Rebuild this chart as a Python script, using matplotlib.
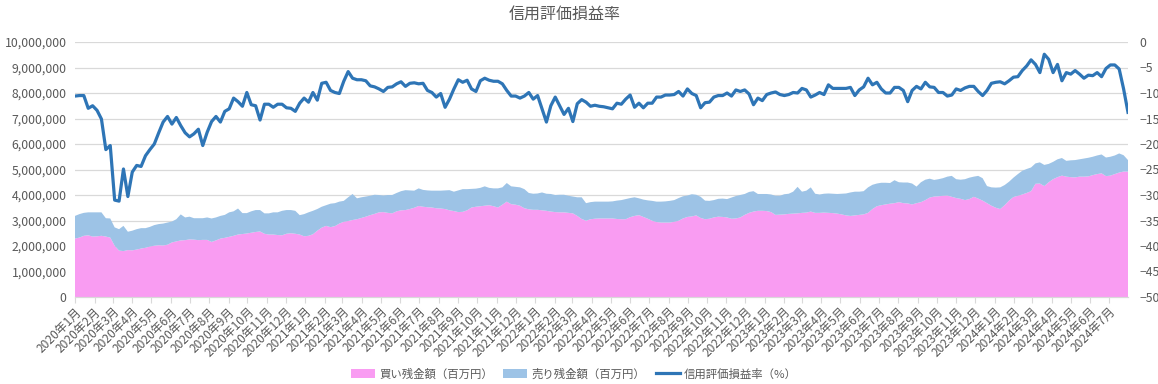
import numpy as np
import pandas as pd
import matplotlib
matplotlib.use("Agg")
import matplotlib.pyplot as plt
from matplotlib.ticker import FuncFormatter, MultipleLocator

plt.rcParams['font.family'] = ['Noto Sans CJK JP', 'DejaVu Sans']

# ========= DATA (weekly, 2020-01-03 .. 2024-08-02) ============
START_DATE = "2020-01-03"

# 買い残金額 (百万円), in millions of 百万円
buy_m = [
    2.29, 2.33, 2.40, 2.42, 2.37, 2.38, 2.40, 2.37, 2.33, 2.01,
    1.82, 1.80, 1.84, 1.83, 1.86, 1.90, 1.93, 1.98, 2.01, 2.03,
    2.02, 2.05, 2.14, 2.18, 2.22, 2.23, 2.26, 2.25, 2.23, 2.24,
    2.24, 2.16, 2.22, 2.29, 2.32, 2.36, 2.40, 2.45, 2.47, 2.49,
    2.52, 2.55, 2.57, 2.48, 2.45, 2.45, 2.43, 2.42, 2.48, 2.50,
    2.48, 2.45, 2.38, 2.40, 2.46, 2.60, 2.72, 2.79, 2.74, 2.78,
    2.88, 2.95, 2.98, 3.02, 3.05, 3.10, 3.15, 3.21, 3.26, 3.32,
    3.33, 3.30, 3.28, 3.36, 3.40, 3.41, 3.45, 3.50, 3.57, 3.54,
    3.52, 3.51, 3.48, 3.47, 3.45, 3.40, 3.37, 3.33, 3.34, 3.40,
    3.51, 3.54, 3.56, 3.58, 3.60, 3.56, 3.51, 3.62, 3.74, 3.64,
    3.62, 3.58, 3.48, 3.44, 3.42, 3.42, 3.40, 3.38, 3.35, 3.33,
    3.32, 3.32, 3.30, 3.28, 3.18, 3.06, 2.99, 3.05, 3.07, 3.08,
    3.08, 3.08, 3.08, 3.06, 3.05, 3.05, 3.13, 3.18, 3.21, 3.14,
    3.07, 2.99, 2.94, 2.92, 2.92, 2.92, 2.95, 2.99, 3.08, 3.14,
    3.16, 3.20, 3.10, 3.05, 3.07, 3.12, 3.15, 3.14, 3.12, 3.07,
    3.08, 3.12, 3.22, 3.30, 3.35, 3.38, 3.38, 3.37, 3.33, 3.22,
    3.23, 3.24, 3.26, 3.27, 3.28, 3.30, 3.31, 3.35, 3.30, 3.30,
    3.31, 3.30, 3.29, 3.27, 3.24, 3.20, 3.18, 3.20, 3.22, 3.24,
    3.30, 3.45, 3.56, 3.60, 3.63, 3.66, 3.68, 3.72, 3.68, 3.67,
    3.63, 3.68, 3.72, 3.80, 3.90, 3.94, 3.95, 3.97, 3.98, 3.93,
    3.88, 3.85, 3.80, 3.84, 3.93, 3.86, 3.78, 3.68, 3.58, 3.50,
    3.45, 3.60, 3.78, 3.92, 3.97, 4.02, 4.08, 4.15, 4.44, 4.45,
    4.35, 4.50, 4.62, 4.70, 4.76, 4.72, 4.70, 4.69, 4.72, 4.72,
    4.73, 4.78, 4.82, 4.85, 4.74, 4.76, 4.82, 4.88, 4.92, 4.92,
]

# 売り残金額 (百万円), in millions of 百万円
sell_m = [
    0.89, 0.92, 0.90, 0.90, 0.95, 0.94, 0.92, 0.72, 0.75, 0.72,
    0.84, 0.99, 0.72, 0.77, 0.80, 0.80, 0.77, 0.77, 0.81, 0.83,
    0.86, 0.87, 0.82, 0.87, 1.02, 0.89, 0.89, 0.84, 0.86, 0.85,
    0.88, 0.92, 0.90, 0.89, 0.90, 0.96, 0.96, 1.02, 0.82, 0.80,
    0.84, 0.86, 0.84, 0.80, 0.83, 0.87, 0.89, 0.96, 0.93, 0.91,
    0.90, 0.76, 0.87, 0.92, 0.92, 0.85, 0.82, 0.81, 0.92, 0.90,
    0.86, 0.82, 0.93, 1.02, 0.82, 0.81, 0.79, 0.76, 0.75, 0.68,
    0.65, 0.70, 0.72, 0.72, 0.75, 0.78, 0.73, 0.67, 0.69, 0.66,
    0.66, 0.66, 0.69, 0.70, 0.73, 0.79, 0.76, 0.85, 0.89, 0.83,
    0.73, 0.71, 0.72, 0.76, 0.68, 0.70, 0.75, 0.68, 0.73, 0.70,
    0.70, 0.72, 0.75, 0.64, 0.63, 0.64, 0.70, 0.67, 0.69, 0.67,
    0.69, 0.69, 0.67, 0.66, 0.73, 0.85, 0.69, 0.67, 0.67, 0.66,
    0.66, 0.66, 0.67, 0.72, 0.75, 0.79, 0.75, 0.73, 0.66, 0.68,
    0.72, 0.78, 0.80, 0.82, 0.83, 0.85, 0.85, 0.89, 0.87, 0.84,
    0.87, 0.81, 0.83, 0.73, 0.70, 0.68, 0.70, 0.72, 0.72, 0.83,
    0.88, 0.88, 0.82, 0.82, 0.80, 0.66, 0.66, 0.67, 0.69, 0.75,
    0.74, 0.79, 0.79, 0.86, 1.04, 0.83, 0.86, 0.95, 0.75, 0.72,
    0.74, 0.76, 0.76, 0.77, 0.81, 0.86, 0.92, 0.93, 0.91, 0.91,
    1.00, 0.95, 0.89, 0.88, 0.85, 0.81, 0.90, 0.78, 0.81, 0.82,
    0.82, 0.65, 0.78, 0.80, 0.74, 0.65, 0.67, 0.69, 0.74, 0.82,
    0.74, 0.75, 0.82, 0.84, 0.79, 0.89, 0.88, 0.67, 0.72, 0.79,
    0.85, 0.79, 0.74, 0.76, 0.85, 0.93, 0.94, 0.93, 0.80, 0.83,
    0.83, 0.72, 0.68, 0.70, 0.69, 0.62, 0.66, 0.68, 0.68, 0.71,
    0.73, 0.72, 0.73, 0.74, 0.73, 0.74, 0.73, 0.75, 0.64, 0.45,
]

# 信用評価損益率 (%)
ratio = [
    -10.6, -10.5, -10.5, -13.0, -12.5, -13.4, -15.1, -21.1, -20.3, -31.0,
    -31.2, -24.9, -30.3, -25.5, -24.2, -24.4, -22.3, -21.1, -20.0, -17.8,
    -15.7, -14.6, -16.1, -14.8, -16.4, -17.8, -18.6, -18.0, -17.1, -20.3,
    -17.7, -15.6, -14.6, -15.7, -13.6, -13.1, -11.0, -11.7, -12.6, -9.9,
    -12.3, -12.5, -15.3, -12.2, -12.2, -12.8, -12.2, -12.2, -12.9, -13.0,
    -13.6, -12.0, -11.0, -11.8, -9.9, -11.4, -8.1, -7.9, -9.5, -9.9,
    -10.1, -7.7, -5.8, -7.1, -7.4, -7.4, -7.6, -8.6, -8.8, -9.2,
    -9.7, -8.9, -8.8, -8.2, -7.8, -8.7, -8.1, -8.0, -8.2, -8.1,
    -9.5, -9.9, -10.8, -10.1, -12.8, -11.2, -9.2, -7.4, -7.9, -7.5,
    -9.2, -9.7, -7.6, -7.1, -7.5, -7.7, -7.7, -8.2, -9.5, -10.6,
    -10.6, -11.0, -10.6, -9.9, -11.2, -10.5, -13.1, -15.7, -12.5, -10.8,
    -12.5, -14.2, -13.0, -15.6, -12.1, -11.3, -11.8, -12.6, -12.4, -12.6,
    -12.7, -12.9, -13.1, -12.0, -12.2, -11.2, -10.4, -12.8, -12.0, -12.9,
    -12.0, -12.0, -10.8, -10.8, -10.4, -10.4, -10.3, -9.7, -10.6, -9.2,
    -10.1, -10.5, -12.9, -11.9, -11.8, -10.8, -10.5, -10.5, -10.0, -10.6,
    -9.4, -9.7, -9.4, -10.2, -12.3, -11.0, -11.5, -10.3, -10.0, -9.8,
    -10.3, -10.5, -10.3, -9.9, -10.0, -9.1, -9.4, -10.8, -10.4, -9.9,
    -10.3, -8.4, -9.1, -9.1, -9.1, -9.1, -8.9, -10.5, -9.4, -8.8,
    -7.1, -8.4, -7.9, -9.2, -10.0, -10.0, -8.9, -8.9, -9.5, -11.7,
    -9.5, -8.7, -9.2, -7.9, -8.8, -8.9, -9.9, -9.9, -10.6, -10.4,
    -9.2, -9.5, -9.0, -8.7, -8.7, -9.7, -10.5, -9.5, -8.1, -7.9,
    -7.8, -8.2, -7.6, -6.9, -6.8, -5.6, -4.7, -3.5, -4.4, -6.0,
    -2.4, -3.4, -6.0, -4.4, -7.6, -6.0, -6.3, -5.6, -6.3, -7.1,
    -6.5, -6.6, -6.0, -6.8, -5.2, -4.5, -4.5, -5.3, -9.2, -13.8,
]

LABELS = ['買い残金額（百万円）', '売り残金額（百万円）', '信用評価損益率（%）']
TITLE = '信用評価損益率'
# ==============================================================

dates = pd.date_range(START_DATE, periods=len(ratio), freq='7D')
buy = np.array(buy_m) * 1e6
sell = np.array(sell_m) * 1e6

PINK = '#F99CF2'
BLUE_AREA = '#9DC3E6'
LINE = '#2E75B6'
GRID = '#D9D9D9'
TXT = '#595959'

fig = plt.figure(figsize=(11.58, 3.84), dpi=100)
ax = fig.add_axes([75 / 1158, 1 - 297 / 384, (1128 - 75) / 1158, (297 - 42) / 384])
ax2 = ax.twinx()

ax.stackplot(dates, buy, sell, colors=[PINK, BLUE_AREA], labels=LABELS[:2], linewidth=0)
ax2.plot(dates, ratio, color=LINE, lw=2.3, label=LABELS[2], solid_joinstyle='round')

ax.set_xlim(dates[0], dates[-1])
ax.set_ylim(0, 10_000_000)
ax.yaxis.set_major_locator(MultipleLocator(1_000_000))
ax.yaxis.set_major_formatter(FuncFormatter(lambda v, p: f'{int(v):,}'))
ax2.set_ylim(-50, 0)
ax2.yaxis.set_major_locator(MultipleLocator(5))

ax.grid(axis='y', color=GRID, lw=0.9)
ax.set_axisbelow(True)

# month ticks
ticks = pd.date_range(START_DATE, dates[-1], freq=pd.DateOffset(months=1))
ax.set_xticks(ticks)
ax.set_xticklabels([f'{d.year}年{d.month}月' for d in ticks], rotation=45,
                   ha='right', rotation_mode='anchor', fontsize=8.6, color=TXT)
ax.tick_params(axis='x', length=4, color=GRID, pad=2)
ax.tick_params(axis='y', length=0, labelsize=8.8, labelcolor=TXT, pad=6)
ax2.tick_params(axis='y', length=0, labelsize=8.8, labelcolor=TXT, pad=8)

for a in (ax, ax2):
    for s in ('top', 'left', 'right'):
        a.spines[s].set_visible(False)
    a.spines['bottom'].set_color(GRID)

fig.text(565 / 1158, 1 - 14 / 384, TITLE, ha='center', va='center', fontsize=11.5, color=TXT)

h1, l1 = ax.get_legend_handles_labels()
h2, l2 = ax2.get_legend_handles_labels()
fig.legend(h1 + h2, l1 + l2, loc='center', bbox_to_anchor=(574 / 1158, 1 - 374 / 384), ncol=3,
           frameon=False, fontsize=8.2, labelcolor=TXT, handlelength=2.1, handleheight=0.9,
           columnspacing=0.9, handletextpad=0.4)

fig.savefig('out.png', dpi=100)
